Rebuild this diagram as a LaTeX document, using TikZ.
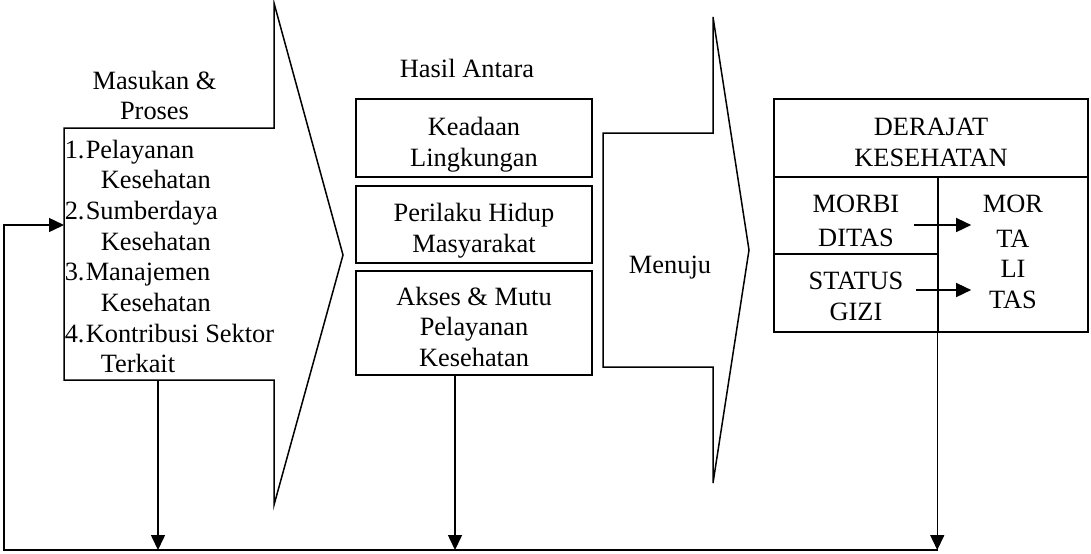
\documentclass[tikz,border=0pt]{standalone}
\usepackage{fontspec}
\setmainfont{Liberation Serif}
\usetikzlibrary{arrows.meta,calc,positioning}
\newcommand{\lowr}[1]{\rule{0pt}{#1}}

\begin{document}
\begin{tikzpicture}[x=0.5pt,y=-0.5pt,line width=.75pt,
  every node/.style={font=\fontsize{13.2}{15.35}\selectfont,inner sep=0pt},
  box/.style={draw,rectangle,align=center,line width=.75pt},
  arr/.style={-{Triangle[length=7.5pt,width=7pt]}},
  txt/.style={anchor=base west}]

\useasboundingbox (0,0) rectangle (1091,553);

% the big input arrow
\draw (64,128) -- (274,128) -- (274,3) -- (343,255) -- (274,505) -- (274,380) -- (64,380) -- cycle;
\coordinate (inleft) at (64,225);
\coordinate (inbot) at (158,380);

\node[align=center,anchor=north] (masukan) at (154.5,70) {Masukan \&\\Proses};

% the numbered list
\def\items{1/Pelayanan/Kesehatan, 2/Sumberdaya/Kesehatan, 3/Manajemen/Kesehatan, 4/Kontribusi Sektor/Terkait}
\foreach \num/\lineA/\lineB [count=\ni] in \items
{
  \pgfmathsetmacro\yb{158+61.4*(\ni-1)}
  \node[txt] (num\ni) at (64,\yb) {\num.};
  \node[txt] (item\ni) at (85,\yb) {\lineA};
  \node[txt] (itemb\ni) at (100,\yb+30.7) {\lineB};
}

% intermediate results
\node[anchor=base] (hasil) at (467,77) {Hasil Antara};
\node[box,minimum width=118pt,minimum height=39pt] (keadaan) at (474,138) {\lowr{16pt}Keadaan\\Lingkungan};
\node[box,minimum width=118pt,minimum height=38.5pt] (perilaku) at (474,224.5) {\lowr{15pt}Perilaku Hidup\\Masyarakat};
\node[box,minimum width=118pt,minimum height=52pt] (akses) at (474,323) {\lowr{13pt}Akses \& Mutu\\Pelayanan\\Kesehatan};

% second arrow
\draw (603,133) -- (713,133) -- (713,17) -- (749,250) -- (713,483) -- (713,367) -- (603,367) -- cycle;
\node[anchor=base] (menuju) at (670,273) {Menuju};

% health status block
\node[box,minimum width=157pt,minimum height=39pt] (derajat) at (931,138) {\lowr{13pt}DERAJAT\\KESEHATAN};
\node[box,minimum width=82pt,minimum height=38.5pt] (morbi) at (856,215.5) {\lowr{14pt}MORBI\\[2pt]DITAS};
\node[box,minimum width=82pt,minimum height=39pt] (status) at (856,293) {\lowr{12pt}STATUS\\GIZI};
\node[box,minimum width=75pt,minimum height=77.5pt] (mortbox) at (1013,254.5) {};
\node[align=center,inner xsep=5.5pt] (mortalitas) at (1013,252) {MOR\\[2pt]TA\\LI\\TAS};

\draw[arr] ([xshift=-12.5pt,yshift=-4.75pt]morbi.east) -- ([yshift=-4.75pt]morbi.east -| mortalitas.west);
\draw[arr] ([xshift=-11.5pt,yshift=1.5pt]status.east) -- ([yshift=1.5pt]status.east -| mortalitas.west);

% feedback loop
\coordinate (fbR) at (938,550);
\coordinate (fbL) at (4,550);
\draw[arr] (inbot) -- (inbot |- fbL);
\draw[arr] ([xshift=-9.5pt]akses.south) -- ([xshift=-9.5pt]akses.south |- fbL);
\draw[arr] (mortbox.north west) -- (mortbox.north west |- fbL);
\draw[arr] (fbR) -- (fbL) -- (inleft -| fbL) -- (inleft);
\end{tikzpicture}
\end{document}
